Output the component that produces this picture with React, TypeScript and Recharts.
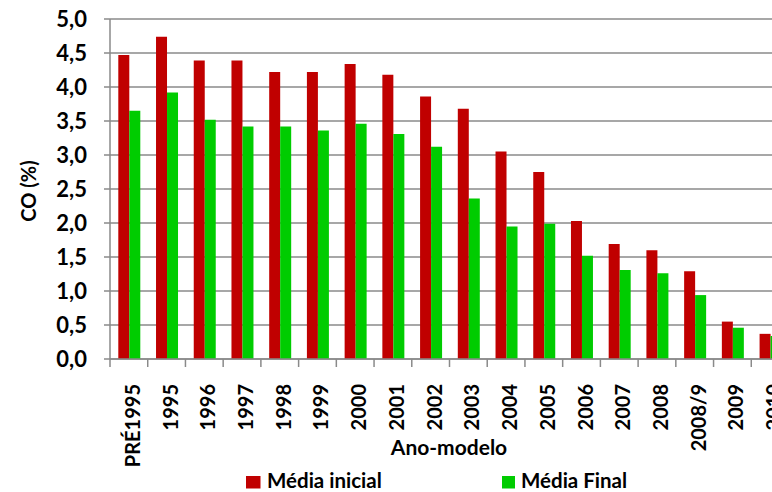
import { Bar, BarChart, CartesianGrid, Legend, XAxis, YAxis } from "recharts";

const categories = [
  "PRÉ1995", "1995", "1996", "1997", "1998", "1999", "2000", "2001", "2002",
  "2003", "2004", "2005", "2006", "2007", "2008", "2008/9", "2009", "2010",
];
const mediaInicial = [
  4.47, 4.74, 4.39, 4.39, 4.22, 4.22, 4.34, 4.18, 3.86,
  3.68, 3.05, 2.75, 2.03, 1.69, 1.6, 1.29, 0.55, 0.37,
];
const mediaFinal = [
  3.65, 3.92, 3.52, 3.42, 3.42, 3.36, 3.46, 3.31, 3.12,
  2.36, 1.95, 1.99, 1.52, 1.31, 1.26, 0.94, 0.46, 0.34,
];
const yTicks = [0, 0.5, 1, 1.5, 2, 2.5, 3, 3.5, 4, 4.5, 5];

const data = categories.map((name, i) => ({
  name,
  inicial: mediaInicial[i],
  final: mediaFinal[i],
}));

const FONT = "Lato, 'Open Sans', sans-serif";
const GRAY = "#8a8a8a";
const RED = "#C00000";
const GREEN = "#00CC00";

const CHART_W = 789;
const AXIS_W = 110;
const band = (CHART_W - AXIS_W) / categories.length;

function XTick({ x, y, payload }: any) {
  const axisY = y - 8;
  const left = x - band / 2;
  const ty = axisY + 25;
  return (
    <g>
      <line x1={left} x2={left} y1={axisY} y2={axisY + 8} stroke={GRAY} strokeWidth={1.5} />
      <text
        x={x}
        y={ty}
        dy={11}
        transform={`rotate(-90, ${x}, ${ty})`}
        textAnchor="end"
        fontFamily={FONT}
        fontWeight="bold"
        fontSize={20}
        fill="#000"
      >
        {payload.value}
      </text>
    </g>
  );
}

function LegendBox() {
  return (
    <svg width={772} height={24} style={{ display: "block" }}>
      <rect x={246} y={8} width={14.5} height={12.5} fill={RED} />
      <text x={267} y={20} fontFamily={FONT} fontWeight="bold" fontSize={20.5} fill="#000">
        Média inicial
      </text>
      <rect x={502} y={8} width={13} height={12.5} fill={GREEN} />
      <text x={521} y={20} fontFamily={FONT} fontWeight="bold" fontSize={20.5} fill="#000">
        Média Final
      </text>
    </svg>
  );
}

export default function App() {
  return (
    <div
      style={{
        position: "absolute",
        left: 0,
        top: 0,
        width: 772,
        height: 492,
        overflow: "hidden",
        background: "#fff",
      }}
    >
      <BarChart
        width={CHART_W}
        height={492}
        data={data}
        margin={{ top: 19, right: 0, left: 0, bottom: 0 }}
        barCategoryGap="22%"
        barGap={0}
      >
        <CartesianGrid vertical={false} stroke={GRAY} strokeWidth={1.5} />
        <XAxis
          dataKey="name"
          height={109}
          interval={0}
          tickSize={8}
          tickMargin={0}
          tickLine={false}
          axisLine={{ stroke: GRAY, strokeWidth: 1.5 }}
          tick={<XTick />}
          label={{
            content: () => (
              <text
                x={449}
                y={455}
                textAnchor="middle"
                fontFamily={FONT}
                fontWeight="bold"
                fontSize={21}
                fill="#000"
              >
                Ano-modelo
              </text>
            ),
          }}
        />
        <YAxis
          width={AXIS_W}
          domain={[0, 5]}
          ticks={yTicks}
          interval={0}
          tickSize={6}
          tickMargin={17}
          axisLine={{ stroke: GRAY, strokeWidth: 1.5 }}
          tickLine={{ stroke: GRAY, strokeWidth: 1.5 }}
          tickFormatter={(v: number) => v.toFixed(1).replace(".", ",")}
          tick={{ fontFamily: FONT, fontWeight: "bold", fontSize: 22, fill: "#000" }}
          label={{
            content: () => (
              <text
                x={36}
                y={191}
                transform="rotate(-90, 36, 191)"
                textAnchor="middle"
                fontFamily={FONT}
                fontWeight="bold"
                fontSize={20}
                fill="#000"
              >
                CO (%)
              </text>
            ),
          }}
        />
        <Legend verticalAlign="bottom" content={() => <LegendBox />} />
        <Bar dataKey="inicial" name="Média inicial" fill={RED} isAnimationActive={false} />
        <Bar dataKey="final" name="Média Final" fill={GREEN} isAnimationActive={false} />
      </BarChart>
    </div>
  );
}
